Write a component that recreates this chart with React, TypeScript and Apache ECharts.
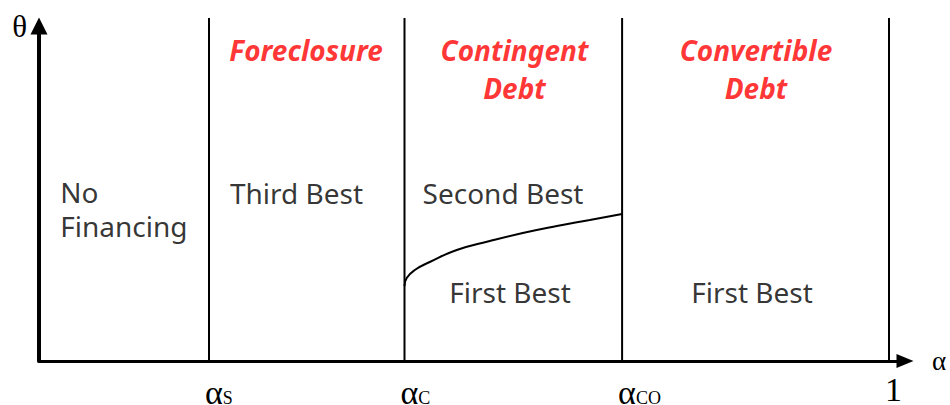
import React, { useEffect, useRef } from 'react';
import * as echarts from 'echarts';

// Boundaries on the alpha axis
const boundaryValues = [0.2, 0.43, 0.686, 1];
const boundaryBase = ['α', 'α', 'α', '1'];
const boundarySub = ['S', 'C', 'CO', ''];

// Curve separating Second Best / First Best in the contingent debt region
const curveX = [0.43, 0.4326, 0.4421, 0.4597, 0.4915, 0.5303, 0.5691, 0.6092, 0.648, 0.686];
const curveY = [0.2187, 0.242, 0.2653, 0.2886, 0.3236, 0.3499, 0.3732, 0.3936, 0.4111, 0.4286];

// Region titles (red)
const titleTexts = ['Foreclosure', 'Contingent\nDebt', 'Convertible\nDebt'];
const titleX = [0.3141, 0.5594, 0.8435];
const titleY = [0.9067, 0.8513, 0.8513];

// Outcome labels
const outcomeTexts = ['No\nFinancing', 'Third Best', 'Second Best', 'First Best', 'First Best'];
const outcomeX = [0.025, 0.3029, 0.5459, 0.5541, 0.8388];
const outcomeY = [0.4417, 0.49, 0.49, 0.2013, 0.2013];

const X_MAX = 866 / 850;
const Y_MAX = 335 / 343;
const SERIF = '"Liberation Serif", "Times New Roman", serif';
const SANS = '"Noto Sans", "Open Sans", sans-serif';

export default function App() {
  const ref = useRef<HTMLDivElement>(null);
  useEffect(() => {
    document.body.style.margin = '0';
    const chart = echarts.init(ref.current as HTMLDivElement, null, { renderer: 'svg' });
    const boundarySeries = boundaryValues.map((v) => ({
      type: 'line',
      data: [[v, 0], [v, 1]],
      clip: false,
      symbol: 'none',
      silent: true,
      lineStyle: { color: '#000', width: 2 },
    }));
    const textData = [
      ...titleTexts.map((t, i) => ({
        name: t,
        value: [titleX[i], titleY[i]],
        label: {
          show: true,
          position: 'inside',
          formatter: t,
          color: '#ff0000',
          textBorderWidth: 0,
          fontFamily: SANS,
          fontStyle: 'italic',
          fontWeight: 'bold',
          fontSize: 28,
          lineHeight: 38,
          align: 'center',
          verticalAlign: 'middle',
        },
      })),
      ...outcomeTexts.map((t, i) => ({
        name: t,
        value: [outcomeX[i], outcomeY[i]],
        label: {
          show: true,
          position: 'inside',
          formatter: t,
          color: '#000000',
          textBorderWidth: 0,
          fontFamily: SANS,
          fontSize: 28,
          lineHeight: 34,
          align: i === 0 ? 'left' : 'center',
          verticalAlign: 'middle',
        },
      })),
    ];
    const option: any = {
      animation: false,
      backgroundColor: '#ffffff',
      grid: { left: 39, right: 45, top: 26, bottom: 44, outerBoundsMode: 'none', containLabel: false },
      xAxis: {
        type: 'value',
        min: 0,
        max: X_MAX,
        axisLine: {
          show: true,
          onZero: false,
          symbol: ['none', 'triangle'],
          symbolSize: [14, 17],
          lineStyle: { color: '#000', width: 3 },
        },
        axisTick: { show: false },
        splitLine: { show: false },
        axisLabel: {
          customValues: boundaryValues,
          align: 'left',
          margin: 14,
          formatter: (val: number) => {
            const i = boundaryValues.findIndex((v) => Math.abs(v - val) < 1e-6);
            if (i < 0) return '';
            return boundarySub[i]
              ? `{a|${boundaryBase[i]}}{s|${boundarySub[i]}}`
              : `{o|${boundaryBase[i]}}`;
          },
          rich: {
            a: { fontFamily: SERIF, fontSize: 34, lineHeight: 29, color: '#000', padding: [5, 0, 0, -4] },
            o: { fontFamily: SERIF, fontSize: 34, lineHeight: 29, color: '#000', padding: [0, 0, 0, -4] },
            s: { fontFamily: SERIF, fontSize: 18, lineHeight: 18, color: '#000', padding: [16, 0, 0, 0] },
          },
        },
        name: 'α',
        nameLocation: 'end',
        nameGap: 27,
        nameTextStyle: {
          fontFamily: SERIF,
          fontSize: 27,
          color: '#000',
          verticalAlign: 'middle',
          padding: [16, 0, 0, 0],
        },
      },
      yAxis: {
        type: 'value',
        min: 0,
        max: Y_MAX,
        axisLine: {
          show: true,
          onZero: false,
          symbol: ['none', 'triangle'],
          symbolSize: [17, 17],
          lineStyle: { color: '#000', width: 4 },
        },
        axisTick: { show: false },
        splitLine: { show: false },
        axisLabel: { show: false },
        name: 'θ',
        nameLocation: 'end',
        nameGap: 0,
        nameTextStyle: {
          fontFamily: SERIF,
          fontSize: 31,
          color: '#000',
          align: 'right',
          verticalAlign: 'middle',
          padding: [0, 12, 0, 0],
        },
      },
      series: [
        ...boundarySeries,
        {
          type: 'line',
          data: curveX.map((x, i) => [x, curveY[i]]),
          smooth: true,
          symbol: 'none',
          silent: true,
          lineStyle: { color: '#000', width: 2 },
        },
        {
          type: 'scatter',
          data: textData,
          symbolSize: 1,
          silent: true,
          itemStyle: { color: 'rgba(0,0,0,0)' },
        },
      ],
    };
    chart.setOption(option);
    return () => chart.dispose();
  }, []);
  return <div ref={ref} style={{ width: 950, height: 405 }} />;
}
